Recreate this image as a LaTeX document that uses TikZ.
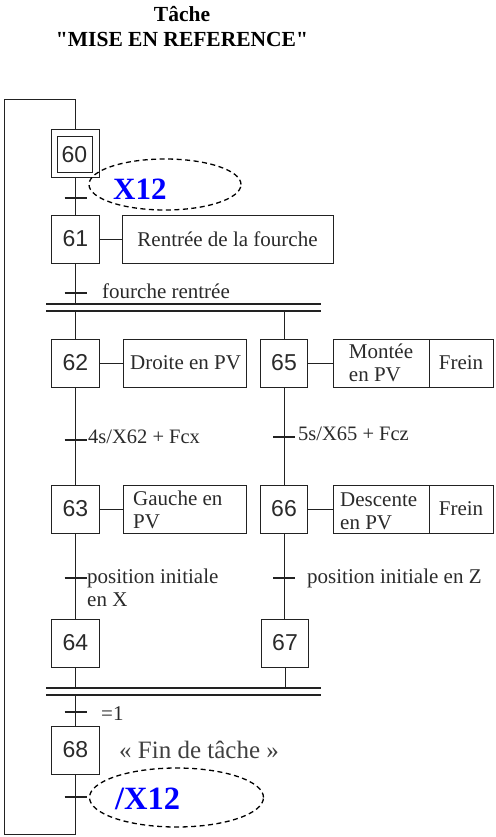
\documentclass[tikz,border=0pt]{standalone}
\usepackage{fontspec}
\setmainfont{Liberation Serif}
\newfontfamily\stepfont{Liberation Sans}
\usetikzlibrary{shapes.geometric}
\definecolor{ink}{HTML}{222222}
\definecolor{txt}{HTML}{2A2A2A}
\definecolor{gray4}{HTML}{404040}
\begin{document}
\begin{tikzpicture}[x=1pt,y=-1pt,
  stepbox/.style={draw=ink, line width=1pt, minimum width=48pt, minimum height=48pt, inner sep=0pt,
    font=\stepfont\fontsize{23}{23}\selectfont, text=txt},
  actbox/.style={draw=ink, line width=1pt, minimum height=48pt, inner sep=0pt,
    font=\fontsize{21}{23}\selectfont, text=txt, align=left},
  lbl/.style={font=\fontsize{21}{23}\selectfont, text=txt, inner sep=0pt, anchor=west, align=left},
  link/.style={draw=ink, line width=1pt},
  bar/.style={draw=ink, line width=1.3pt},
  tick/.style={draw=ink, line width=1.1pt},
  cloud/.style={draw=black, ellipse, dash pattern=on 5pt off 3.5pt, line width=1.3pt, inner sep=0pt},
  bluetxt/.style={text=blue, inner sep=0pt, anchor=base west},
  title/.style={font=\bfseries\fontsize{21.5}{24.5}\selectfont, text=black, inner sep=0pt, anchor=base}
]
\useasboundingbox (0,0) rectangle (495,837);

% title
\node[title] (t1) at (182,22) {Tâche};
\node[title] (t2) at (182,46.5) {\textquotedbl MISE EN REFERENCE\textquotedbl};

% steps
\node[stepbox] (s60) at (75.5,154) {};
\node[draw=ink, line width=1pt, minimum width=35pt, minimum height=36pt, inner sep=0pt,
  font=\stepfont\fontsize{23}{23}\selectfont, text=txt] (s60i) at (74.5,155) {60};
\node[stepbox] (s61) at (75.5,239) {61};
\node[stepbox] (s62) at (75.5,363) {62};
\node[stepbox] (s63) at (75.5,509) {63};
\node[stepbox] (s64) at (75.5,643) {64};
\node[stepbox] (s68) at (75.5,750) {68};
\node[stepbox, minimum width=47pt] (s65) at (284,363) {65};
\node[stepbox, minimum width=47pt] (s66) at (284,509) {66};
\node[stepbox, minimum width=47pt] (s67) at (285,643) {67};

% actions
\node[actbox, minimum width=211pt] (a61) at (227.5,239) {Rentrée de la fourche};
\node[actbox, minimum width=123pt] (a62) at (184.5,363) {};
\node[lbl] (a62t) at (130,363) {Droite en PV};
\node[actbox, minimum width=123pt] (a63) at (184.5,509) {};
\node[lbl] (a63t) at (133,510) {Gauche en\\PV};
\node[actbox, minimum width=96pt] (a65) at (381,363) {Montée\\en PV};
\node[actbox, minimum width=64pt] (a65f) at (461,363) {Frein};
\node[actbox, minimum width=96pt] (a66) at (381,509) {};
\node[lbl] (a66t) at (340,511) {Descente\\en PV};
\node[actbox, minimum width=64pt] (a66f) at (461,509) {Frein};

\draw[link] (s61.east) -- (a61.west);
\draw[link] (s62.east) -- (a62.west);
\draw[link] (s63.east) -- (a63.west);
\draw[link] (s65.east) -- (a65.west);
\draw[link] (s66.east) -- (a66.west);

% bars
\coordinate (d1a) at (46,304); \coordinate (d1b) at (321,304);
\coordinate (d2a) at (46,311); \coordinate (d2b) at (321,311);
\coordinate (c1a) at (46,688); \coordinate (c1b) at (321,688);
\coordinate (c2a) at (46,695); \coordinate (c2b) at (321,695);
\draw[bar] (d1a) -- (d1b);
\draw[bar] (d2a) -- (d2b);
\draw[bar] (c1a) -- (c1b);
\draw[bar] (c2a) -- (c2b);

% vertical links
\draw[link] (s60.south) -- (s61.north);
\draw[link] (s61.south) -- (s61.south |- d1a);
\draw[link] (s62.north |- d2a) -- (s62.north);
\draw[link] (s65.north |- d2a) -- (s65.north);
\draw[link] (s62.south) -- (s63.north);
\draw[link] (s63.south) -- (s64.north);
\draw[link] (s65.south) -- (s66.north);
\draw[link] (s66.south) -- (s66.south |- s67.north);
\draw[link] (s64.south) -- (s64.south |- c1a);
\draw[link] (s67.south) -- (s67.south |- c1a);
\draw[link] (s68.north |- c2a) -- (s68.north);

% loop back
\coordinate (loopB) at (75.5,834);
\coordinate (loopT) at (4,100);
\draw[link] (s68.south) -- (loopB) -| (loopT) -| (s60.north);

% transitions
\coordinate (tr60) at (75.5,198);
\coordinate (tr61) at (75.5,293);
\coordinate (tr62) at (75.5,440);
\coordinate (tr65) at (284,437);
\coordinate (tr63) at (75.5,578);
\coordinate (tr66) at (284,578);
\coordinate (trj) at (75.5,712);
\coordinate (tr68) at (75.5,797);
\foreach \t in {tr60,tr61,tr62,tr65,tr63,tr66,trj,tr68}
  \draw[tick] ([xshift=-11pt]\t) -- ([xshift=11pt]\t);

% receptivities
\node[cloud, minimum width=152pt, minimum height=51pt] (e1) at (165,184.5) {};
\node[bluetxt, font=\bfseries\fontsize{31}{31}\selectfont] (x1) at (113,200) {X12};
\node[lbl] (r61) at (102,291) {fourche rentrée};
\node[lbl, font=\fontsize{20.5}{23}\selectfont] (r62) at (88,437) {4s/X62 + Fcx};
\node[lbl, font=\fontsize{20.5}{23}\selectfont] (r65) at (298,434) {5s/X65 + Fcz};
\node[lbl] (r63) at (87,588) {position initiale\\en X};
\node[lbl] (r66) at (307,578) {position initiale en Z};
\node[lbl] (rj) at (101,714) {=1};
\node[lbl, font=\fontsize{25}{27}\selectfont, text=gray4] (fin) at (119,750) {« Fin de tâche »};
\node[cloud, minimum width=174pt, minimum height=59pt] (e2) at (176.5,797.5) {};
\node[bluetxt, font=\bfseries\fontsize{32.5}{32.5}\selectfont] (x2) at (115,809) {/X12};
\end{tikzpicture}
\end{document}
